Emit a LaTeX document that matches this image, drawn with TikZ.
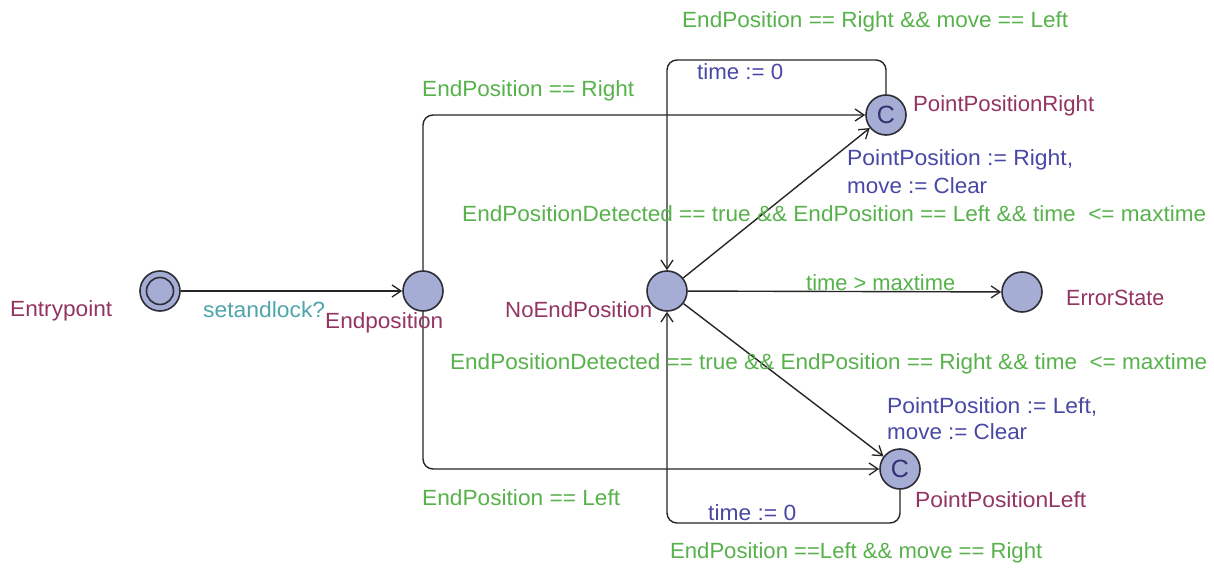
\documentclass[tikz,border=0pt]{standalone}
\usepackage{fontspec}
\setmainfont{Liberation Sans}
\usetikzlibrary{arrows.meta}
\definecolor{guardc}{RGB}{88,178,76}
\definecolor{assignc}{RGB}{72,72,165}
\definecolor{namec}{RGB}{148,52,98}
\definecolor{syncc}{RGB}{78,165,172}
\definecolor{locfill}{RGB}{166,173,213}
\definecolor{locdraw}{RGB}{45,45,55}
\definecolor{commc}{RGB}{50,50,115}
\newcommand\fw[2]{\resizebox{#1pt}{\height}{#2}}
\tikzset{
  loc/.style={circle, draw=locdraw, fill=locfill, line width=1.6pt, minimum size=40pt, inner sep=0pt},
  lbl/.style={inner sep=0pt, anchor=base west, font=\fontsize{22}{26}\selectfont},
  nm/.style={lbl, text=namec},
  gd/.style={lbl, text=guardc},
  as/.style={lbl, text=assignc},
  sy/.style={lbl, text=syncc},
  edge/.style={draw=black!85, line width=1.4pt, -{Straight Barb[length=9pt,width=12pt,line width=1.3pt]}},
}
\begin{document}
\begin{tikzpicture}[x=1pt,y=-1pt]
\useasboundingbox[fill=white] (0,0) rectangle (1214,569);
% locations
\node[loc] (ent) at (160,291) {};
\node[circle, draw=locdraw, line width=1.6pt, minimum size=27pt, inner sep=0pt] (entin) at (ent) {};
\node[loc] (endp) at (423,291) {};
\node[loc] (nep) at (667,291) {};
\node[loc] (err) at (1022,292) {};
\node[loc, text=commc, font=\fontsize{25}{25}\selectfont] (ppr) at (886,115) {C};
\node[loc, text=commc, font=\fontsize{25}{25}\selectfont] (ppl) at (900,469) {C};
% corner coordinates
\coordinate (c1) at (667,60);
\coordinate (c2) at (667,523);
% edges
\draw[edge] (ent) -- (endp);
\draw[edge, rounded corners=10pt] (endp.north) |- (ppr.west);
\draw[edge, rounded corners=10pt] (endp.south) |- (ppl.west);
\draw[edge] (nep) -- (ppr);
\draw[edge] (nep) -- (ppl);
\draw[edge] (nep) -- (err);
\draw[edge, rounded corners=10pt] (ppr.north) |- (c1) -- (nep.north);
\draw[edge, rounded corners=10pt] (ppl.south) |- (c2) -- (nep.south);
% labels
\node[nm] (lEntry) at (10,316) {\fw{102}{Entrypoint}};
\node[sy] (lSync) at (203,317) {\fw{122}{setandlock?}};
\node[nm] (lEndp) at (325,328) {\fw{118}{Endposition}};
\node[gd] (g1) at (422,97) {\fw{212}{EndPosition == Right}};
\node[gd] (g2) at (422,505) {\fw{198}{EndPosition == Left}};
\node[gd] (g3) at (682,28) {\fw{386}{EndPosition == Right \&\& move == Left}};
\node[as] (a3) at (697,80) {\fw{86}{time := 0}};
\node[nm] (lppr) at (913,112) {\fw{181}{PointPositionRight}};
\node[as] (a4a) at (847,166) {\fw{226}{PointPosition := Right,}};
\node[as] (a4b) at (847,194) {\fw{140}{move := Clear}};
\node[gd] (g4) at (462,222) {\fw{744}{EndPositionDetected == true \&\& EndPosition == Left \&\& time\ \ <= maxtime}};
\node[gd] (g6) at (806,290) {\fw{149}{time > maxtime}};
\node[nm] (lerr) at (1066,305) {\fw{98}{ErrorState}};
\node[nm] (lnep) at (505,317) {\fw{147}{NoEndPosition}};
\node[gd] (g5) at (450,369) {\fw{757}{EndPositionDetected == true \&\& EndPosition == Right \&\& time\ \ <= maxtime}};
\node[as] (a5a) at (887,413) {\fw{210}{PointPosition := Left,}};
\node[as] (a5b) at (887,439) {\fw{140}{move := Clear}};
\node[nm] (lppl) at (915,507) {\fw{171}{PointPositionLeft}};
\node[as] (a8) at (708,520) {\fw{88}{time := 0}};
\node[gd] (g8) at (670,558) {\fw{372}{EndPosition ==Left \&\& move == Right}};
\end{tikzpicture}
\end{document}
